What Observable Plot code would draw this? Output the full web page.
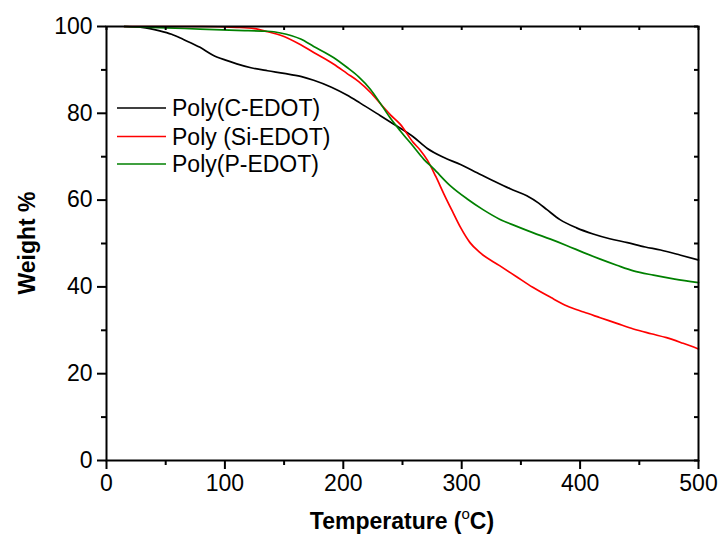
<!DOCTYPE html>
<html>
<head>
<meta charset="utf-8">
<script src="https://cdn.jsdelivr.net/npm/d3@7"></script>
<script src="https://cdn.jsdelivr.net/npm/@observablehq/plot@0.6"></script>
<style>
  html, body { margin: 0; padding: 0; background: #fff; }
  #chart { width: 721px; height: 538px; }
  svg { font-family: "Liberation Sans", Arial, sans-serif; }
</style>
</head>
<body>
<div id="chart"></div>
<script>
const seriesNames = ["Poly(C-EDOT)", "Poly (Si-EDOT)", "Poly(P-EDOT)"];
const seriesColors = ["#000000", "#ff0000", "#008000"];

const tempC = [15, 30, 45, 55, 65, 79, 90, 100, 110, 122, 136, 150, 164, 175, 190, 203, 214, 231, 242, 259, 271, 285, 299, 313, 327, 341, 355, 365, 372, 383, 397, 411, 425, 440, 455, 468, 485, 500];
const weightC = [100, 99.8, 99.0, 98.2, 97.0, 95.2, 93.4, 92.3, 91.4, 90.5, 89.8, 89.2, 88.5, 87.6, 86.0, 84.2, 82.4, 79.5, 77.6, 74.6, 71.9, 69.8, 68.2, 66.3, 64.4, 62.6, 61.0, 59.3, 57.8, 55.5, 53.6, 52.2, 51.1, 50.2, 49.2, 48.5, 47.3, 46.2];

const tempSi = [15, 50, 80, 110, 125, 136, 147, 164, 175, 192, 203, 213, 223, 232, 240, 248, 259, 265, 271, 278, 285, 292, 299, 307, 315, 332, 346, 360, 375, 389, 403, 417, 431, 445, 460, 473, 487, 500];
const weightSi = [100, 100, 100, 99.8, 99.5, 98.8, 98.0, 95.8, 94.0, 91.3, 89.2, 87.3, 84.8, 82.0, 79.6, 77.5, 73.3, 71.5, 69.2, 65.5, 61.4, 57.5, 53.7, 50.2, 48.0, 44.9, 42.4, 39.9, 37.6, 35.6, 34.2, 32.9, 31.6, 30.3, 29.2, 28.3, 27.0, 25.7];

const tempP = [15, 50, 79, 110, 136, 147, 164, 175, 192, 203, 213, 223, 232, 240, 248, 259, 268, 276, 290, 305, 318, 332, 346, 360, 375, 389, 403, 417, 431, 445, 462, 480, 500];
const weightP = [100, 99.7, 99.4, 99.1, 98.9, 98.5, 97.1, 95.4, 92.8, 90.6, 88.4, 85.5, 82.0, 78.8, 76.0, 72.4, 69.4, 67.3, 63.4, 60.2, 57.8, 55.6, 54.0, 52.5, 51.0, 49.5, 47.9, 46.4, 45.0, 43.7, 42.7, 41.8, 41.0];

const xMajorTicks = [0, 100, 200, 300, 400, 500];
const xMinorTicks = [50, 150, 250, 350, 450];
const yMajorTicks = [0, 20, 40, 60, 80, 100];
const yMinorTicks = [10, 30, 50, 70, 90];

const rows = [
  ...tempC.map((t, i) => ({series: seriesNames[0], t, w: weightC[i]})),
  ...tempSi.map((t, i) => ({series: seriesNames[1], t, w: weightSi[i]})),
  ...tempP.map((t, i) => ({series: seriesNames[2], t, w: weightP[i]}))
];

const W = 721, H = 538;
const margin = {top: 26, right: 23, bottom: 78, left: 106};
const innerW = W - margin.left - margin.right;
const innerH = H - margin.top - margin.bottom;
const font = 23;

const chart = Plot.plot({
  width: W,
  height: H,
  marginTop: margin.top,
  marginRight: margin.right,
  marginBottom: margin.bottom,
  marginLeft: margin.left,
  style: {fontFamily: '"Liberation Sans", Arial, sans-serif', color: "#000", background: "#fff", overflow: "visible"},
  x: {domain: [0, 500]},
  y: {domain: [0, 100]},
  color: {domain: seriesNames, range: seriesColors},
  marks: [
    Plot.line(rows, {x: "t", y: "w", z: "series", stroke: "series", strokeWidth: 1.7, curve: "monotone-x"}),
    Plot.axisX({ticks: xMajorTicks, tickSize: 9, tickPadding: 5, strokeWidth: 2, fontSize: font, label: null, tickFormat: d => String(d)}),
    Plot.axisX({ticks: xMinorTicks, tickSize: 5, strokeWidth: 2, label: null, tickFormat: () => ""}),
    Plot.axisY({ticks: yMajorTicks, tickSize: 9, tickPadding: 5, strokeWidth: 2, fontSize: font, label: null, tickFormat: d => String(d)}),
    Plot.axisY({ticks: yMinorTicks, tickSize: 5, strokeWidth: 2, label: null, tickFormat: () => ""}),
    Plot.tickX([...xMajorTicks, ...xMinorTicks], {x: d => d, stroke: "#000", strokeWidth: 2, insetBottom: innerH - 4}),
    Plot.tickY([...yMajorTicks, ...yMinorTicks], {y: d => d, stroke: "#000", strokeWidth: 2, insetLeft: innerW - 4}),
    Plot.frame({stroke: "#000", strokeWidth: 2})
  ]
});

document.getElementById("chart").appendChild(chart);

const svg = d3.select(chart);

// X axis title with superscript
const xt = svg.append("text")
  .attr("x", margin.left + innerW / 2)
  .attr("y", 529)
  .attr("text-anchor", "middle")
  .attr("font-size", font)
  .attr("font-weight", "bold")
  .attr("fill", "#000");
xt.append("tspan").text("Temperature (");
xt.append("tspan").attr("dy", -10).attr("font-size", 15).attr("font-weight", "normal").text("o");
xt.append("tspan").attr("dy", 10).text("C)");

// Y axis title
svg.append("text")
  .attr("transform", `translate(35,${margin.top + innerH / 2}) rotate(-90)`)
  .attr("text-anchor", "middle")
  .attr("font-size", font)
  .attr("font-weight", "bold")
  .attr("fill", "#000")
  .text("Weight %");

// Legend
const legendY = [108, 136.5, 164];
seriesNames.forEach((name, i) => {
  svg.append("line")
    .attr("x1", 117).attr("x2", 166)
    .attr("y1", legendY[i]).attr("y2", legendY[i])
    .attr("stroke", seriesColors[i]).attr("stroke-width", 1.7);
  svg.append("text")
    .attr("x", 172).attr("y", legendY[i])
    .attr("dy", "0.36em")
    .attr("text-anchor", "start")
    .attr("font-size", font)
    .attr("fill", "#000")
    .text(name);
});
</script>
</body>
</html>
